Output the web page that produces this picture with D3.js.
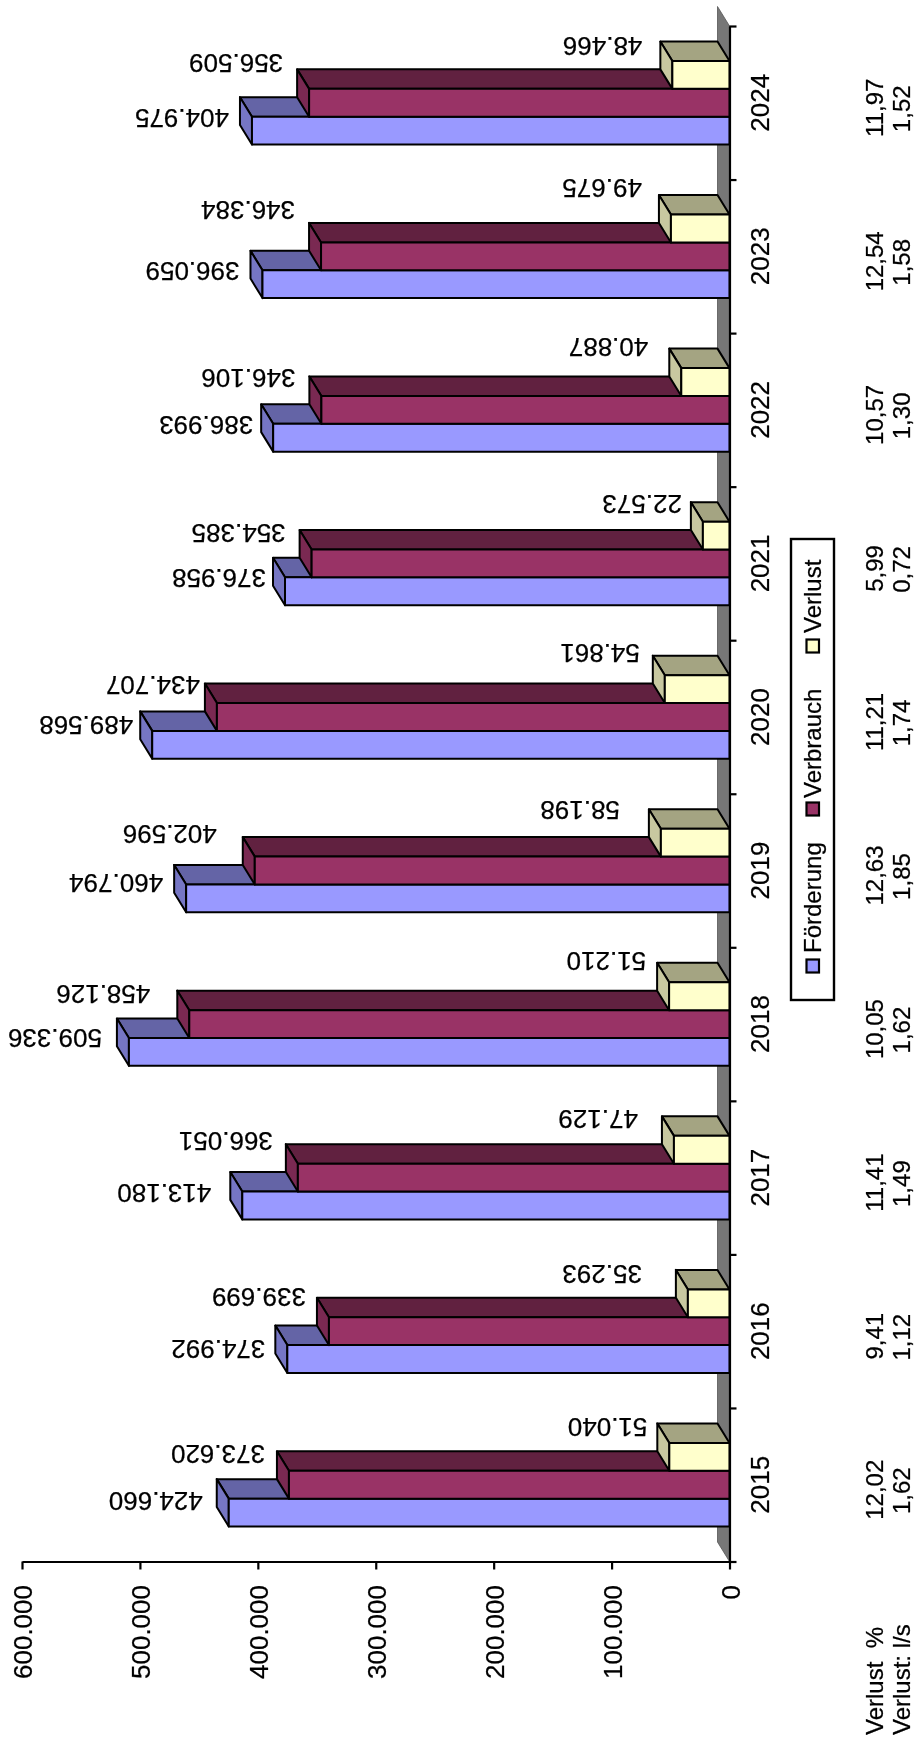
<!DOCTYPE html>
<html><head><meta charset="utf-8">
<script src="https://cdn.jsdelivr.net/npm/d3@7/dist/d3.min.js"></script>
<style>html,body{margin:0;padding:0;background:#fff}svg{display:block;filter:blur(0.45px)}text{font-family:"Liberation Sans",Arial,sans-serif;fill:#000;stroke:#000;stroke-width:0.25}</style>
</head><body><div id="c"></div>
<script>
const years = [2015,2016,2017,2018,2019,2020,2021,2022,2023,2024];
const foerderung = [424660,374992,413180,509336,460794,489568,376958,386993,396059,404975];
const verbrauch = [373620,339699,366051,458126,402596,434707,354385,346106,346384,356509];
const verlust = [51040,35293,47129,51210,58198,54861,22573,40887,49675,48466];
const verlustProzent = ["12,02","9,41","11,41","10,05","12,63","11,21","5,99","10,57","12,54","11,97"];
const verlustLs = ["1,62","1,12","1,49","1,62","1,85","1,74","0,72","1,30","1,58","1,52"];
const seriesNames = ["Förderung","Verbrauch","Verlust"];
const seriesValues = [foerderung,verbrauch,verlust];
const valueTicks = [0,100000,200000,300000,400000,500000,600000];

const W=919,H=1746;
const palette=[
 {front:"#9999FF",top:"#6464A6",side:"#7676C4",labelDy:21},
 {front:"#993366",top:"#612140",side:"#7A2952",labelDy:0},
 {front:"#FFFFCC",top:"#A4A482",side:"#C8C8A0",labelDy:1}
];
// hand placement of the data labels in the original, [dx,dy] per year (2015..2024) and series
const labelNudge=[
 [[-3,1],[-1,3],[1,3]],
 [[1,3],[0,0],[-23,3]],
 [[-8,0],[-2,-3],[-13,2]],
 [[-4,-1],[-16,4],[0,-2]],
 [[0,-3],[-15,-3],[-18,0]],
 [[4,-7],[6,1.5],[-2,-3]],
 [[4,0],[-3,3],[2,1]],
 [[3,0],[-3,2],[-10,-2]],
 [[0,0],[-3,-13],[-6,-8]],
 [[0,0],[-3,-6],[-7,4]]
];
const DX=-12,DY=-19.5,axisX=729.5,axisTop=26,axisBottom=1561.5;
const loc=d3.formatLocale({decimal:",",thousands:".",grouping:[3],currency:["","€"]});
const fmt=loc.format(",d");

const x=d3.scaleLinear().domain([0,600000]).range([axisX,22]);
const y=d3.scaleBand().domain(years.slice().reverse()).range([axisTop,axisBottom]).paddingInner(0.456).paddingOuter(0.228);
const yIn=d3.scaleBand().domain([2,1,0]).range([0,y.bandwidth()]);
const yEdge=d3.scaleLinear().domain([0,years.length]).range([axisBottom,axisTop]);

const svg=d3.select("#c").append("svg").attr("width",W).attr("height",H).attr("viewBox",`0 0 ${W} ${H}`);
const line=d3.line();

// wall
svg.append("path").attr("fill","#777").attr("stroke","#555").attr("stroke-width",0.8)
 .attr("d",line([[axisX+DX,axisTop+DY],[axisX,axisTop],[axisX,axisBottom],[axisX+DX,axisBottom+DY]])+"Z");

// bars
const groups=svg.selectAll("g.cat").data(years).join("g").attr("class","cat");
groups.each(function(yr,i){
  const g=d3.select(this);
  [0,1,2].forEach(s=>{
    const v=seriesValues[s][i],p=palette[s];
    const x1=x(v),x0=x(0),t=y(yr)+yIn(s),b=t+yIn.bandwidth();
    const add=(pts,fill)=>g.append("path").attr("d",line(pts)+"Z").attr("fill",fill)
      .attr("stroke","#000").attr("stroke-width",2).attr("stroke-linejoin","round");
    add([[x1,t],[x1+DX,t+DY],[x0+DX,t+DY],[x0,t]],p.top);
    add([[x1,t],[x1+DX,t+DY],[x1+DX,b+DY],[x1,b]],p.side);
    add([[x1,t],[x0,t],[x0,b],[x1,b]],p.front);
  });
});

// data labels (upside down)
groups.each(function(yr,i){
  const g=d3.select(this);
  [0,1,2].forEach(s=>{
    const v=seriesValues[s][i],[nx,ny]=labelNudge[i][s];
    const lx=x(v)+DX-11+nx, ly=y(yr)+yIn(s)+DY+palette[s].labelDy+ny;
    g.append("text").attr("transform",`translate(${lx},${ly}) rotate(180)`).attr("dy","0.36em")
     .attr("font-size",26).text(fmt(v));
  });
});

// value axis
const ax=svg.append("g").attr("transform",`translate(0,${axisBottom})`)
 .call(d3.axisBottom(x).tickValues(valueTicks).tickSize(8).tickSizeOuter(0).tickFormat(fmt));
ax.selectAll("path,line").attr("stroke","#000").attr("stroke-width",2.2);
ax.selectAll("text").attr("font-size",26).attr("font-family",'"Liberation Sans",Arial,sans-serif')
 .attr("text-anchor","end").attr("x",0).attr("y",0).attr("dy",0)
 .attr("transform",`translate(9.5,${1585-axisBottom}) rotate(-90)`);

// category axis
const ay=svg.append("g").attr("transform",`translate(${axisX},0)`)
 .call(d3.axisRight(yEdge).tickValues(d3.range(years.length+1)).tickSize(7).tickSizeOuter(0).tickFormat(""));
ay.selectAll("path,line").attr("stroke","#000").attr("stroke-width",2.2);

const rot=(px,py,str,size,anchor)=>svg.append("text").attr("transform",`translate(${px},${py}) rotate(-90)`)
 .attr("font-size",size).attr("text-anchor",anchor).text(str);

years.forEach((yr,i)=>{
  const c=y(yr)+y.bandwidth()/2;
  rot(769,c,yr,26,"middle");
  rot(883,c+5,verlustProzent[i],24,"middle");
  rot(910,c+6,verlustLs[i],24,"middle");
});
rot(883,1735,"Verlust\u00a0 %",24,"start");
rot(910,1735,"Verlust: l/s",24,"start");

// legend
svg.append("rect").attr("x",791).attr("y",539).attr("width",43).attr("height",461).attr("fill","#fff").attr("stroke","#000").attr("stroke-width",2.4);
const legendY=[973,816,653], legendTextY=[953,798,633];
seriesNames.forEach((n,s)=>{
  svg.append("rect").attr("x",806.5).attr("y",legendY[s]-13.5).attr("width",12.5).attr("height",13).attr("fill",palette[s].front).attr("stroke","#000").attr("stroke-width",2.2);
  rot(821,legendTextY[s],n,24,"start");
});
</script></body></html>
